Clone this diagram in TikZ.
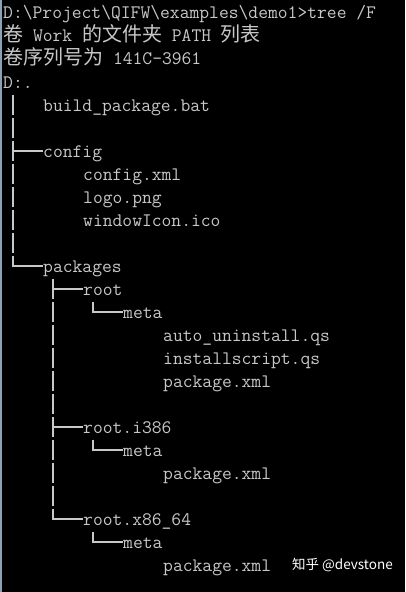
\documentclass[tikz,border=0pt]{standalone}
\usepackage{fontspec}
\newfontfamily\cjk[Scale=1.05]{Noto Sans CJK SC}
\newfontfamily\markfont{Noto Sans CJK SC}
\definecolor{termgray}{RGB}{200,200,200}
\definecolor{edgeblue}{RGB}{140,160,185}
\tikzset{
	line/.style={anchor=west, inner sep=0pt, text height=12pt, text depth=0pt, text=termgray, font=\ttfamily\fontsize{19.05}{22}\selectfont},
	tree/.style={draw=termgray, line width=1.4pt},
}
\def\treebar(#1)(#2:#3){\foreach \r in {#2,...,#3} \draw[tree] (#1,\r-0.45) -- (#1,\r+0.45);}

\begin{document}
\begin{tikzpicture}[x=1pt, y=-23pt]
			%%%%% START %%%%%
			
			\fill[black] (0,-0.5652) rectangle (405,25.174);
			\fill[edgeblue] (0,-0.5652) rectangle (1.5,25.174);
			
			\node[line] (cmd) at (3,0) {D:\textbackslash Project\textbackslash QIFW\textbackslash examples\textbackslash demo1>tree /F};
			\node[line] (vol) at (3,1) {{\cjk 卷} Work {\cjk 的文件夹} PATH {\cjk 列表}};
			\node[line] (serial) at (3,2) {{\cjk 卷序列号为} 141C-3961};
			\node[line] (drive) at (3,3) {D:.};
			
			\node[line] (bat) at (43,4) {build\_package.bat};
			
			\node[line] (config) at (43,6) {config};
			\node[line] (configxml) at (83,7) {config.xml};
			\node[line] (logo) at (83,8) {logo.png};
			\node[line] (icon) at (83,9) {windowIcon.ico};
			
			\node[line] (packages) at (43,11) {packages};
			
			\node[line] (root) at (83,12) {root};
			\node[line] (rootmeta) at (123,13) {meta};
			\node[line] (uninstall) at (163,14) {auto\_uninstall.qs};
			\node[line] (installscript) at (163,15) {installscript.qs};
			\node[line] (rootpkg) at (163,16) {package.xml};
			
			\node[line] (rooti) at (83,18) {root.i386};
			\node[line] (rootimeta) at (123,19) {meta};
			\node[line] (rootipkg) at (163,20) {package.xml};
			
			\node[line] (rootx) at (83,22) {root.x86\_64};
			\node[line] (rootxmeta) at (123,23) {meta};
			\node[line] (rootxpkg) at (163,24) {package.xml};
			
			% tree lines
			\treebar(13)(4:10)
			\draw[tree] (13,6) -- (config.west);
			\draw[tree] (13,10.55) |- (packages.west);
			
			\treebar(53)(12:21)
			\draw[tree] (53,12) -- (root.west);
			\draw[tree] (53,18) -- (rooti.west);
			\draw[tree] (53,21.55) |- (rootx.west);
			
			\draw[tree] (93,12.55) |- (rootmeta.west);
			\draw[tree] (93,18.55) |- (rootimeta.west);
			\draw[tree] (93,22.55) |- (rootxmeta.west);
			
			\node[anchor=west, inner sep=0pt, text=white, font=\markfont\fontsize{13.5}{16}\selectfont] (mark) at (292,24) {知乎 @devstone};
			
			%%%%% END %%%%%
		\end{tikzpicture}
\end{document}
